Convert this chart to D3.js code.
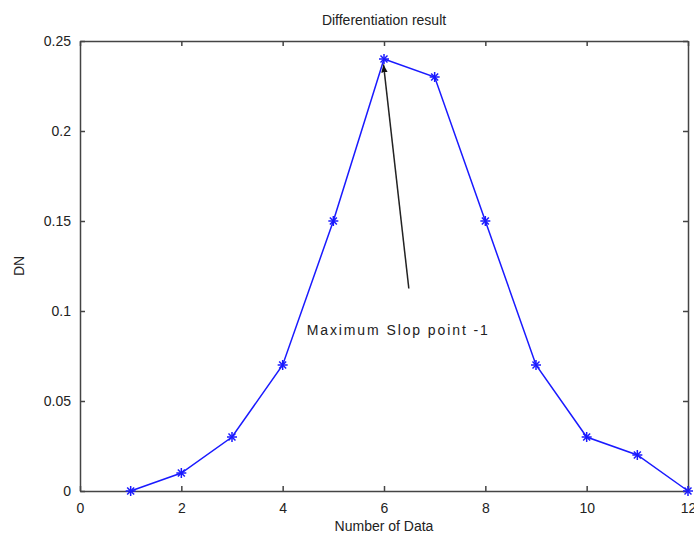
<!DOCTYPE html>
<html>
<head>
<meta charset="utf-8">
<script src="https://cdn.jsdelivr.net/npm/d3@7"></script>
<style>
  body { margin: 0; background: #fff; }
  text { font-family: "Liberation Sans", Arial, sans-serif; fill: #222; }
</style>
</head>
<body>
<div id="wrapper"></div>
<script>
// chart values
const xValues = [1, 2, 3, 4, 5, 6, 7, 8, 9, 10, 11, 12];
const dnValues = [0, 0.01, 0.03, 0.07, 0.15, 0.24, 0.23, 0.15, 0.07, 0.03, 0.02, 0];
const xTicks = [0, 2, 4, 6, 8, 10, 12];
const yTicks = [0, 0.05, 0.1, 0.15, 0.2, 0.25];
const arrowFrom = [6.49, 0.1125];
const arrowTo = [5.99, 0.237];
const noteText = "Maximum Slop point -1";
const notePos = [6.28, 0.0885];

const width = 694, height = 538;
const margin = { top: 41, right: 6, bottom: 47, left: 80 };
const innerW = width - margin.left - margin.right;
const innerH = height - margin.top - margin.bottom;

const svg = d3.select("#wrapper").append("svg")
  .attr("width", width)
  .attr("height", height);

const x = d3.scaleLinear().domain([0, 12]).range([0, innerW]);
const y = d3.scaleLinear().domain([0, 0.25]).range([innerH, 0]);

const g = svg.append("g").attr("transform", `translate(${margin.left},${margin.top})`);

const axisColor = "#444";
const tickFmt = d => d === 0 ? "0" : String(d);

// bottom axis, ticks point inward
const xAxis = g.append("g")
  .attr("transform", `translate(0,${innerH})`)
  .call(d3.axisBottom(x).tickValues(xTicks).tickSizeInner(-5).tickSizeOuter(0).tickPadding(12).tickFormat(tickFmt));
// top axis (ticks only)
const xAxisTop = g.append("g")
  .call(d3.axisTop(x).tickValues(xTicks).tickSizeInner(-5).tickSizeOuter(0).tickFormat(""));
// left axis
const yAxis = g.append("g")
  .call(d3.axisLeft(y).tickValues(yTicks).tickSizeInner(-5).tickSizeOuter(0).tickPadding(9).tickFormat(tickFmt));
// right axis (ticks only)
const yAxisRight = g.append("g")
  .attr("transform", `translate(${innerW},0)`)
  .call(d3.axisRight(y).tickValues(yTicks).tickSizeInner(-5).tickSizeOuter(0).tickFormat(""));

[xAxis, xAxisTop, yAxis, yAxisRight].forEach(a => {
  a.selectAll("path, line").attr("stroke", axisColor).attr("stroke-width", 1.5);
  a.selectAll("text").style("font-size", "14px").attr("fill", "#222");
});

// data line
const line = d3.line()
  .x((d, i) => x(xValues[i]))
  .y(d => y(d));

g.append("path")
  .datum(dnValues)
  .attr("fill", "none")
  .attr("stroke", "#1a1aff")
  .attr("stroke-width", 1.5)
  .attr("d", line);

// asterisk markers
const star = g.append("g").attr("stroke", "#1a1aff").attr("stroke-width", 1.5)
  .selectAll("g")
  .data(dnValues)
  .join("g")
  .attr("transform", (d, i) => `translate(${x(xValues[i])},${y(d)})`);
const s = 5;
star.append("line").attr("x1", -s).attr("x2", s).attr("y1", 0).attr("y2", 0);
star.append("line").attr("x1", 0).attr("x2", 0).attr("y1", -s).attr("y2", s);
star.append("line").attr("x1", -s * 0.7).attr("x2", s * 0.7).attr("y1", -s * 0.7).attr("y2", s * 0.7);
star.append("line").attr("x1", -s * 0.7).attr("x2", s * 0.7).attr("y1", s * 0.7).attr("y2", -s * 0.7);

// annotation arrow
svg.append("defs").append("marker")
  .attr("id", "head")
  .attr("viewBox", "0 0 10 10")
  .attr("refX", 10).attr("refY", 5)
  .attr("markerWidth", 8).attr("markerHeight", 8)
  .attr("markerUnits", "userSpaceOnUse")
  .attr("orient", "auto")
  .append("path")
  .attr("d", "M0,1 L10,5 L0,9 Z")
  .attr("fill", "#111");

g.append("line")
  .attr("x1", x(arrowFrom[0])).attr("y1", y(arrowFrom[1]))
  .attr("x2", x(arrowTo[0])).attr("y2", y(arrowTo[1]))
  .attr("stroke", "#222")
  .attr("stroke-width", 1.5)
  .attr("marker-end", "url(#head)");

g.append("text")
  .attr("x", x(notePos[0]))
  .attr("y", y(notePos[1]))
  .attr("text-anchor", "middle")
  .attr("dominant-baseline", "middle")
  .style("font-size", "14px")
  .style("letter-spacing", "1.9px")
  .text(noteText);

// title and axis labels
svg.append("text")
  .attr("x", margin.left + innerW / 2)
  .attr("y", 25)
  .attr("text-anchor", "middle")
  .style("font-size", "14px")
  .text("Differentiation result");

svg.append("text")
  .attr("x", margin.left + innerW / 2)
  .attr("y", 531)
  .attr("text-anchor", "middle")
  .style("font-size", "14px")
  .text("Number of Data");

svg.append("text")
  .attr("transform", `translate(24,${margin.top + innerH / 2}) rotate(-90)`)
  .attr("text-anchor", "middle")
  .style("font-size", "14px")
  .text("DN");
</script>
</body>
</html>
